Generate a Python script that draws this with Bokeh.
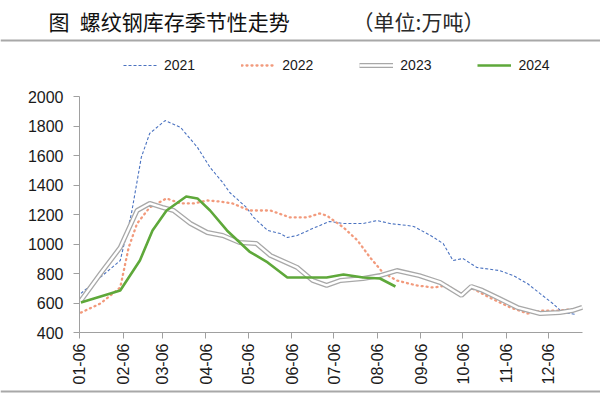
import math
import pandas as pd
from bokeh.plotting import figure
from bokeh.models import Range1d, Legend, LegendItem, Label, FixedTicker, Span
from bokeh.embed import file_html
from bokeh.resources import INLINE

# ---- data (month-day, inventory in 10k tonnes) ----
d2021 = ["01-07","01-21","02-04","02-12","02-19","02-25","03-08","03-19","03-31","04-09","04-18","04-23",
         "05-05","05-10","05-20","05-29","06-03","06-10","06-21","07-03","07-13","07-27","08-06","08-15",
         "08-27","09-01","09-13","09-22","09-29","10-06","10-16","11-01","11-11","11-21","11-30","12-09",
         "12-16","12-26"]
v2021 = [665,775,888,1207,1587,1750,1837,1790,1655,1519,1417,1349,
         1247,1180,1092,1071,1044,1058,1105,1153,1139,1139,1159,1139,
         1126,1119,1058,1003,888,902,841,820,786,732,664,597,
         536,522]

d2022 = ["01-07","01-21","02-04","02-10","02-16","02-25","03-09","03-19","03-28","04-07","04-16","04-25",
         "05-07","05-22","06-05","06-17","06-26","07-01","07-13","07-23","08-01","08-10","08-20","09-03",
         "09-15","09-25","10-04","10-13","10-25","11-09","11-21","12-02","12-14","12-28"]
v2022 = [535,597,705,976,1139,1248,1309,1275,1275,1295,1288,1275,
         1227,1227,1180,1180,1207,1193,1112,1024,908,807,753,719,
         705,719,664,698,637,569,529,549,549,563]

d2023 = ["01-07","01-21","02-04","02-16","02-25","03-06","03-14","03-26","04-07","04-18","04-30","05-12",
         "05-22","06-10","06-21","07-01","07-11","07-27","08-08","08-20","09-05","09-20","10-05","10-12",
         "10-20","11-01","11-14","11-30","12-14","12-23","12-30"]
v2023 = [617,800,976,1227,1275,1248,1227,1139,1078,1058,1010,1003,
         922,841,753,719,753,766,786,820,786,739,651,712,
         685,630,569,529,536,549,570]

d2024 = ["01-07","02-04","02-18","02-27","03-09","03-23","03-31","04-09","04-21","05-07","05-20","06-03",
         "06-17","07-01","07-13","07-27","08-08","08-19"]
v2024 = [603,685,888,1092,1227,1322,1309,1227,1092,949,875,773,
         773,773,793,773,766,712]

tick_labels = ["01-06","02-06","03-06","04-06","05-06","06-06",
               "07-06","08-06","09-06","10-06","11-06","12-06"]
y_ticks = [400, 600, 800, 1000, 1200, 1400, 1600, 1800, 2000]

def doy(days):
    return [int(pd.Timestamp("2023-" + d).dayofyear) for d in days]

x21, x22, x23, x24 = doy(d2021), doy(d2022), doy(d2023), doy(d2024)
tick_pos = doy(tick_labels)

FONT = "Liberation Sans"
CJK = "Noto Sans CJK SC"

# frame covers the whole canvas; axes are pinned inside it
p = figure(width=600, height=394, output_backend="svg", toolbar_location=None,
           x_range=Range1d(-50.26, 377.03), y_range=Range1d(-20.3, 2650.9),
           min_border=0, min_border_left=0, min_border_right=0,
           min_border_top=0, min_border_bottom=0)
p.outline_line_color = None
p.xgrid.visible = False
p.ygrid.visible = False

r21 = p.line(x21, v2021, line_color="#4A72C0", line_width=1.1, line_dash="3 2")
r22 = p.line(x22, v2022, line_color="#F29A7C", line_width=2.3, line_dash="1 4", line_cap="round")
r23a = p.line(x23, v2023, line_color="#A8A8A8", line_width=5)
r23b = p.line(x23, v2023, line_color="white", line_width=2.4)
r24 = p.line(x24, v2024, line_color="#5EA83A", line_width=2.6)

for ax in (p.xaxis, p.yaxis):
    ax.axis_line_color = "#A0A0A0"
    ax.major_tick_line_color = "#A0A0A0"
    ax.minor_tick_line_color = None
    ax.major_tick_in = 0
    ax.major_tick_out = 6
    ax.major_label_text_font = FONT
    ax.major_label_text_font_size = "16px"
    ax.major_label_text_color = "#1a1a1a"
p.yaxis.ticker = FixedTicker(ticks=y_ticks)
p.yaxis.bounds = (y_ticks[0], y_ticks[-1])
p.yaxis.fixed_location = tick_pos[0]
p.yaxis.major_label_standoff = 10
p.xaxis.ticker = FixedTicker(ticks=tick_pos)
p.xaxis.major_label_overrides = {t: l for t, l in zip(tick_pos, tick_labels)}
p.xaxis.major_label_orientation = math.pi / 2
p.xaxis.bounds = (tick_pos[0], 364)
p.xaxis.fixed_location = y_ticks[0]
p.xaxis.major_label_standoff = 5

legend = Legend(items=[LegendItem(label="2021", renderers=[r21]),
                       LegendItem(label="2022", renderers=[r22]),
                       LegendItem(label="2023", renderers=[r23a, r23b]),
                       LegendItem(label="2024", renderers=[r24])],
                orientation="horizontal", location=(123, 321),
                glyph_width=34, glyph_height=16, label_standoff=7, spacing=46,
                padding=2, margin=0, border_line_color=None, background_fill_alpha=0,
                label_text_font=FONT, label_text_font_size="14px", label_text_color="#1a1a1a")
p.add_layout(legend)

p.add_layout(Label(x=-16.1, y=2515, text="图", text_font=CJK,
                   text_font_size="21px", text_baseline="middle", text_color="#111111"))
p.add_layout(Label(x=6.2, y=2515, text="螺纹钢库存季节性走势", text_font=CJK,
                   text_font_size="21px", text_baseline="middle", text_color="#111111"))
p.add_layout(Label(x=200.5, y=2515, text="（单位:万吨）", text_font=CJK,
                   text_font_size="21px", text_baseline="middle", text_color="#2a2a2a"))
p.add_layout(Span(location=2380, dimension="width", line_color="#A8A8A8", line_width=2))
p.add_layout(Span(location=0, dimension="width", line_color="#A8A8A8", line_width=2))

open("out.html", "w").write(file_html(p, INLINE))
